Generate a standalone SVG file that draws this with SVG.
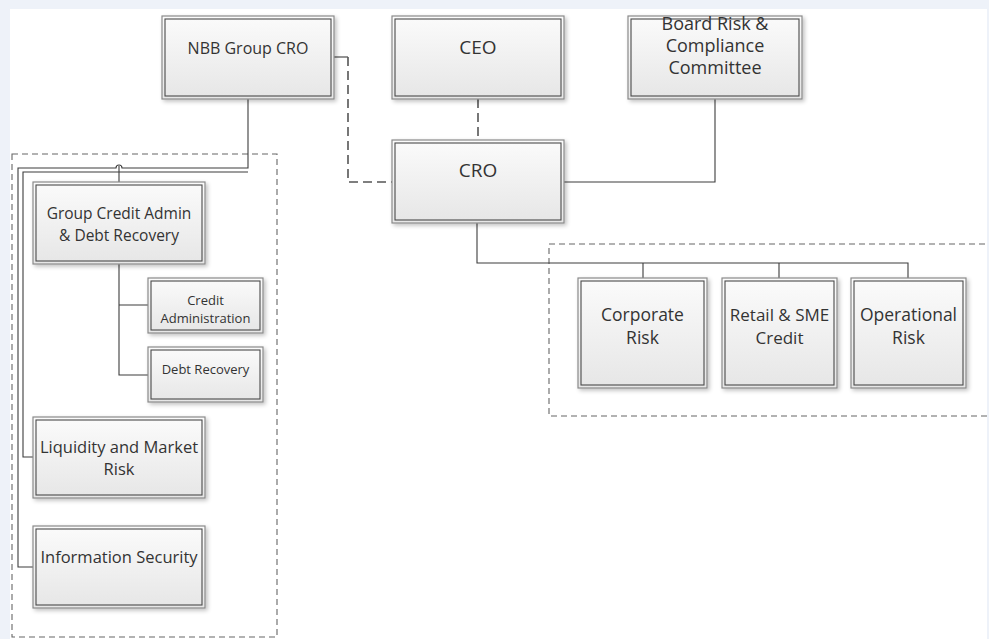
<svg xmlns="http://www.w3.org/2000/svg" width="989" height="639" viewBox="0 0 989 639">
<defs>
<linearGradient id="bg" x1="0" y1="0" x2="0" y2="1">
<stop offset="0" stop-color="#fbfbfb"/>
<stop offset="1" stop-color="#e6e6e6"/>
</linearGradient>
<filter id="sh" x="-10%" y="-10%" width="130%" height="130%">
<feGaussianBlur in="SourceAlpha" stdDeviation="2"/>
<feOffset dx="2" dy="2" result="b"/>
<feComponentTransfer><feFuncA type="linear" slope="0.25"/></feComponentTransfer>
<feMerge><feMergeNode/><feMergeNode in="SourceGraphic"/></feMerge>
</filter>
<style>
.box{fill:url(#bg);stroke:#8a8a8a;stroke-width:1.2;filter:url(#sh)}
.in{fill:none;stroke:#4a4a4a;stroke-width:1.1}
.t{font-family:"Open Sans","Noto Sans",sans-serif;fill:#333;text-anchor:middle}
.c{fill:none;stroke:#3c3c3c;stroke-width:1.1}
.d{fill:none;stroke:#555;stroke-width:1.6;stroke-dasharray:9,5}
.g{fill:none;stroke:#666;stroke-width:1.1;stroke-dasharray:6,4}
</style>
</defs>
<rect x="0" y="0" width="989" height="639" fill="#eef2f9"/>
<rect x="10" y="9" width="977" height="630" fill="#ffffff"/>

<g id="containers">
<rect class="g" x="12" y="154" width="265" height="483"/>
<path class="g" d="M995,244 H549 V416 H995"/>
</g>

<g id="connectors">
<path class="c" d="M248,99 V168 H122 A3,3 0 0 0 116,168 H18 V567 H33"/>
<path class="c" d="M248,172 H23 V457 H33"/>
<path class="c" d="M119,166 V182"/>
<path class="c" d="M119,264 V375 H148 M119,305 H148"/>
<path class="c" d="M334,57 H348"/>
<path class="d" d="M348,57 V182 H392"/>
<path class="d" d="M478,99 V140"/>
<path class="c" d="M715,99 V182 H564"/>
<path class="c" d="M477,223 V263 H908 V278 M643,263 V278 M779,263 V278"/>
</g>

<g id="nbb">
<rect class="box" x="162" y="16" width="172" height="83"/>
<rect class="in" x="165" y="19" width="166" height="77"/>
<text class="t" x="248" y="54" font-size="16">NBB Group CRO</text>
</g>
<g id="ceo">
<rect class="box" x="392" y="16" width="172" height="83"/>
<rect class="in" x="395" y="19" width="166" height="77"/>
<text class="t" x="478" y="54" font-size="19">CEO</text>
</g>
<g id="board">
<rect class="box" x="628" y="16" width="174" height="83"/>
<rect class="in" x="631" y="19" width="168" height="77"/>
<text class="t" x="715" y="30" font-size="18">Board Risk &amp;</text>
<text class="t" x="715" y="52" font-size="18">Compliance</text>
<text class="t" x="715" y="74" font-size="18">Committee</text>
</g>
<g id="cro">
<rect class="box" x="392" y="140" width="172" height="83"/>
<rect class="in" x="395" y="143" width="166" height="77"/>
<text class="t" x="478" y="177" font-size="19">CRO</text>
</g>
<g id="gca">
<rect class="box" x="33" y="182" width="172" height="82"/>
<rect class="in" x="36" y="185" width="166" height="76"/>
<text class="t" x="119" y="219" font-size="15.5">Group Credit Admin</text>
<text class="t" x="119" y="241" font-size="15.5">&amp; Debt Recovery</text>
</g>
<g id="creditadmin">
<rect class="box" x="148" y="278" width="115" height="55"/>
<rect class="in" x="151" y="281" width="109" height="49"/>
<text class="t" x="205.5" y="305" font-size="13">Credit</text>
<text class="t" x="205.5" y="323" font-size="13">Administration</text>
</g>
<g id="debtrecovery">
<rect class="box" x="148" y="347" width="115" height="55"/>
<rect class="in" x="151" y="350" width="109" height="49"/>
<text class="t" x="205.5" y="374" font-size="13">Debt Recovery</text>
</g>
<g id="liquidity">
<rect class="box" x="33" y="417" width="172" height="81"/>
<rect class="in" x="36" y="420" width="166" height="75"/>
<text class="t" x="119" y="453" font-size="16.5">Liquidity and Market</text>
<text class="t" x="119" y="475" font-size="16.5">Risk</text>
</g>
<g id="infosec">
<rect class="box" x="33" y="526" width="172" height="82"/>
<rect class="in" x="36" y="529" width="166" height="76"/>
<text class="t" x="119" y="563" font-size="16.5">Information Security</text>
</g>
<g id="corporate">
<rect class="box" x="578" y="278" width="129" height="110"/>
<rect class="in" x="581" y="281" width="123" height="104"/>
<text class="t" x="642.5" y="321" font-size="17.5">Corporate</text>
<text class="t" x="642.5" y="344" font-size="17.5">Risk</text>
</g>
<g id="retail">
<rect class="box" x="722" y="278" width="115" height="110"/>
<rect class="in" x="725" y="281" width="109" height="104"/>
<text class="t" x="779.5" y="321" font-size="17">Retail &amp; SME</text>
<text class="t" x="779.5" y="344" font-size="17">Credit</text>
</g>
<g id="operational">
<rect class="box" x="851" y="278" width="115" height="110"/>
<rect class="in" x="854" y="281" width="109" height="104"/>
<text class="t" x="908.5" y="321" font-size="17.5">Operational</text>
<text class="t" x="908.5" y="344" font-size="17.5">Risk</text>
</g>
</svg>
